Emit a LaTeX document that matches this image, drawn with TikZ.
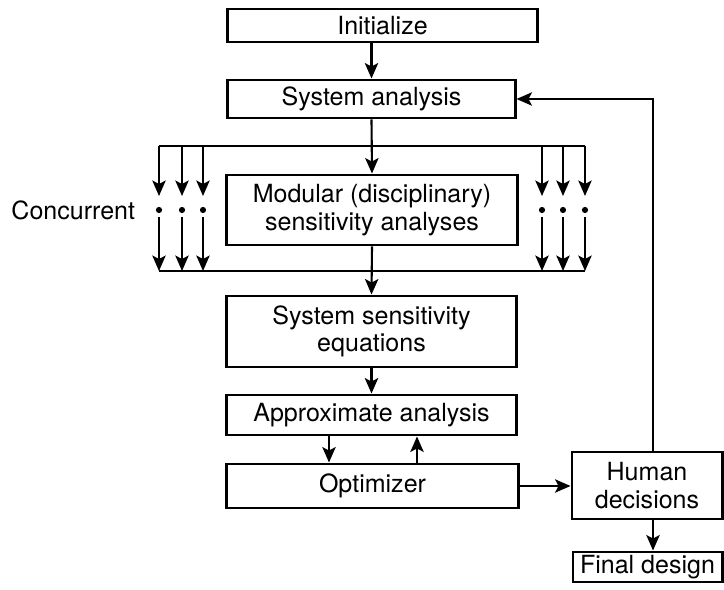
\documentclass[tikz,border=0pt]{standalone}
\usepackage{fontspec}
\setmainfont{TeX Gyre Heros}
\usetikzlibrary{arrows.meta}

\begin{document}
\begin{tikzpicture}[x=0.025cm, y=-0.025cm,
    font=\fontsize{17.8}{19.5}\selectfont,
    caja/.style={draw, line width=2.1pt, align=center, inner sep=0pt},
    linea/.style={line width=1.5pt},
    flecha/.style={linea, -{Stealth[length=11pt, width=9.5pt, inset=2.5pt]}}]

    % Fijamos el marco del dibujo
    \useasboundingbox (0,0) rectangle (724,590);

    % Cajas de la columna central
    \node[caja, minimum width=7.725cm, minimum height=0.825cm] (init) at (382.5,25.5) {Initialize};
    \node[caja, minimum width=7.175cm, minimum height=0.95cm] (sys) at (371.5,99) {System analysis};
    \node[caja, minimum width=7.25cm, minimum height=1.75cm] (mod) at (372,210) {Modular (disciplinary)\\sensitivity analyses};
    \node[caja, minimum width=7.225cm, minimum height=1.775cm] (sens) at (371.5,331.5) {System sensitivity\\equations};
    \node[caja, minimum width=7.225cm, minimum height=1.0cm] (approx) at (371.5,415) {Approximate analysis};
    \node[caja, minimum width=7.275cm, minimum height=1.1cm] (opt) at (372.5,486) {Optimizer};

    % Cajas de la derecha
    \node[caja, minimum width=3.75cm, minimum height=1.675cm] (human) at (647,485.5) {Human\\decisions};
    \node[caja, minimum width=3.725cm, minimum height=0.75cm] (final) at (647.5,567) {Final design};

    % Etiqueta de la izquierda
    \node[anchor=east] (conc) at (140,210) {Concurrent};

    % Puntos auxiliares
    \coordinate (baja) at (329,0);
    \coordinate (sube) at (417,0);
    \coordinate (fb) at (653,0);

    % Flechas de la columna central
    \draw[flecha] (init.south -| sys.north) -- (sys.north);
    \draw[flecha] (sys.south) -- (mod.north);
    \draw[flecha] (mod.south) -- (sens.north);
    \draw[flecha] (sens.south) -- (approx.north);
    \draw[flecha] (approx.south -| baja) -- (opt.north -| baja);
    \draw[flecha] (opt.north -| sube) -- (approx.south -| sube);

    % Salida hacia las decisiones y realimentacion
    \draw[flecha] (opt.east) -- (opt.east -| human.west);
    \draw[flecha] (human.north -| fb) |- (sys.east);
    \draw[flecha] (human.south -| fb) -- (final.north -| fb);

    % Barras de los analisis concurrentes
    \draw[linea] (159,146) -- (585,146);
    \draw[linea] (159,271) -- (585,271);
    \foreach \x in {159,182,203,542,563,585}
    {
        \draw[flecha] (\x,146) -- (\x,196);
        \fill (\x,210) circle (2.2pt);
        \draw[flecha] (\x,217) -- (\x,271);
    }

\end{tikzpicture}
\end{document}
